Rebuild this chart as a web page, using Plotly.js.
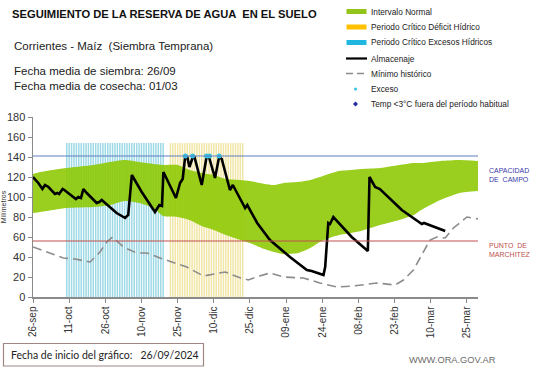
<!DOCTYPE html>
<html><head><meta charset="utf-8">
<script src="https://cdn.plot.ly/plotly-3.0.1.min.js"></script>
<style>html,body{margin:0;padding:0;background:#fff}#chart{width:541px;height:368px}</style>
</head><body><div id="chart"></div>
<script>
// ---- data (x = days since 26-sep-2024) ----
const tickDays = [0,15,30,45,60,75,90,105,120,135,150,165,180];
const tickLabels = ['26-sep','11-oct','26-oct','10-nov','25-nov','10-dic','25-dic','09-ene','24-ene','08-feb','23-feb','10-mar','25-mar'];

const normalDays = [0,3,14,25,32,38,44,50,54,60,65,70,75,80,86,90,96,100,104,110,115,119,124,127,132,136,144,152,158,161,169,177,185];
const normalLow  = [84,85,89,90,92,96,94,89,81,80,77,71,67,62,57,54,48,45,43,44,49,55,60,62,64,66,72,77,82,87,97,104,106];
const normalHigh = [123,125,129,132,135,137,135,133,132,132,127,124,122,118,117,116,113,112,114,115,117,120,124,126,127,128,129,132,134,134,136,137,136];

const capacidadCampo = 141;
const puntoMarchitez = 56;

const excesoPeriod = [14, 54];   // Periodo critico excesos hidricos (first/last day)
const deficitPeriod = [57, 87];  // Periodo critico deficit hidrico
const periodBarHeight = 154;

const almDays = [0,2.2,3.9,5,6.4,9.1,10.1,10.8,12.3,13,17.8,18.8,19.9,20.9,22.3,26.4,27.5,28.5,34.7,38.2,39.5,41,45.1,50.6,52.4,53.5,54.1,55.7,59.3,61,62.1,63.1,64,64.9,66.3,67,70,72,73,75.5,77.2,78.3,81.7,82.9,88,88.9,93,98.3,106.6,113.6,115.6,120.5,121.2,122.5,123.2,124.6,132.2,138.9,139.6,141.9,143.9,153,161.3,162.2,171];
const almVals = [120,114,108,112,110,103,104,103,108,107,98,100,99,108,104,94,95,97,84,79,82,122,105,85,92,91,125,117,99,114,118,140,140,130,140,140,112,140,140,119,140,138,107,112,89,92,74,57,40,27,26,22,30,74,73,80,60,46,120,110,108,87,73,74,66];

const excesoDays = [63.2, 66.2, 72, 73.2, 77.2];
const excesoVals = [141, 141, 141, 141, 141];

const minDays = [0,12.6,17.4,23.7,27.8,30.6,33,37.5,43,47.2,52.7,58,63.8,70.7,75,79.7,85,89.3,94,98.3,103.9,112.2,119,126,132.9,142.6,150.2,153.7,157.8,164.7,167.5,171,174.4,180,184.8];
const minVals = [50,39,38,35,45,55,60,50,44,44,39,35,30,21,23,25,20,17,21,24,20,19,14,10,11,14,12,17,27,57,60,59,69,80,78];

// ---- build bar series from periods ----
function daysIn(p){ const a=[]; for(let d=p[0]; d<=p[1]; d++) a.push(d); return a; }
const excBarX = daysIn(excesoPeriod);
const defBarX = daysIn(deficitPeriod);

const xMax = 184.6;

const traces = [
  {type:'bar', x:excBarX, y:excBarX.map(()=>periodBarHeight), marker:{color:'#9ed9e6'}, hoverinfo:'skip', showlegend:false},
  {type:'bar', x:defBarX, y:defBarX.map(()=>periodBarHeight), marker:{color:'#f2e6a6'}, hoverinfo:'skip', showlegend:false},
  {type:'scatter', mode:'lines', x:normalDays, y:normalLow, line:{width:0, shape:'spline', smoothing:0.6}, showlegend:false, hoverinfo:'skip'},
  {type:'scatter', mode:'lines', x:normalDays, y:normalHigh, fill:'tonexty', fillcolor:'rgba(140,200,0,0.88)', line:{width:0, shape:'spline', smoothing:0.6}, showlegend:false},
  {type:'scatter', mode:'lines', x:minDays, y:minVals, line:{color:'#8c8c8c', width:1.6, dash:'9px,5px'}, showlegend:false},
  {type:'scatter', mode:'lines', x:almDays, y:almVals, line:{color:'#000', width:2.6}, showlegend:false},
  {type:'scatter', mode:'markers', x:excesoDays, y:excesoVals, marker:{color:'#35c3e3', size:5}, showlegend:false}
];

const F = 'Liberation Sans, Arial, sans-serif';
const legendItems = [
  {t:'Intervalo Normal', kind:'rect', c:'#92c41a', y:11.5},
  {t:'Periodo Crítico Déficit Hídrico', kind:'rect', c:'#ffc000', y:27},
  {t:'Periodo Crítico Excesos Hídricos', kind:'rect', c:'#1fb6e0', y:42.5},
  {t:'Almacenaje', kind:'line', c:'#000', y:58.5},
  {t:'Mínimo histórico', kind:'dash', c:'#8c8c8c', y:73.5},
  {t:'Exceso', kind:'dot', c:'#35c3e3', y:89},
  {t:'Temp <3°C fuera del período habitual', kind:'diamond', c:'#1f2f9f', y:104}
];
const W=541, H=368;
const PL=33, PR=478, PT=117, PB=297;
const px = v => (v-PL)/(PR-PL), py = v => (PB - v)/(PB-PT);

const shapes = [
  {type:'line', xref:'paper', x0:0, x1:1, yref:'y', y0:capacidadCampo, y1:capacidadCampo, line:{color:'#5f7fbf', width:1.2}},
  {type:'line', xref:'paper', x0:0, x1:1, yref:'y', y0:puntoMarchitez, y1:puntoMarchitez, line:{color:'#c0504d', width:1.2}},
  {type:'rect', xref:'paper', yref:'paper', x0:px(3.5), x1:px(203.5), y0:py(366), y1:py(343.5), line:{color:'#a08585', width:1.2}, fillcolor:'rgba(0,0,0,0)'}
];
const annotations = [
  {text:'Corrientes - Maíz  (Siembra Temprana)', x:px(12), y:py(46), xanchor:'left', yanchor:'middle', font:{size:11.5, color:'#222'}},
  {text:'Fecha media de siembra: 26/09', x:px(12), y:py(71), xanchor:'left', yanchor:'middle', font:{size:11.5, color:'#222'}},
  {text:'Fecha media de cosecha: 01/03', x:px(12), y:py(85.5), xanchor:'left', yanchor:'middle', font:{size:11.5, color:'#222'}},
  {text:'CAPACIDAD<br>DE  CAMPO', x:px(487), y:py(175), xanchor:'left', yanchor:'middle', align:'left', font:{size:7, color:'#3a3aa8'}},
  {text:'PUNTO  DE<br>MARCHITEZ', x:px(487), y:py(250), xanchor:'left', yanchor:'middle', align:'left', font:{size:7, color:'#c0504d'}},
  {text:'Fecha de inicio del gráfico:   26/09/2024', x:px(9), y:py(355), xanchor:'left', yanchor:'middle', font:{size:10.5, color:'#222', family:'Lato, '+F}},
  {text:'WWW.ORA.GOV.AR', x:px(498), y:py(360), xanchor:'right', yanchor:'middle', font:{size:9.3, color:'#6b6b6b'}}
];
legendItems.forEach(it=>{
  annotations.push({text:it.t, x:px(369), y:py(it.y), xanchor:'left', yanchor:'middle', font:{size:8.3, color:'#222'}});
  if(it.kind==='rect') shapes.push({type:'rect', xref:'paper', yref:'paper', x0:px(346.5), x1:px(366.5), y0:py(it.y+2.5), y1:py(it.y-2.5), line:{width:0}, fillcolor:it.c});
  if(it.kind==='line') shapes.push({type:'line', xref:'paper', yref:'paper', x0:px(346), x1:px(367), y0:py(it.y), y1:py(it.y), line:{width:2.2, color:it.c}});
  if(it.kind==='dash') shapes.push({type:'line', xref:'paper', yref:'paper', x0:px(346), x1:px(367), y0:py(it.y), y1:py(it.y), line:{width:1.6, color:it.c, dash:'7px,4px'}});
  if(it.kind==='dot') shapes.push({type:'circle', xref:'paper', yref:'paper', x0:px(354), x1:px(357), y0:py(it.y+1.5), y1:py(it.y-1.5), line:{width:0}, fillcolor:it.c});
  if(it.kind==='diamond') shapes.push({type:'path', xref:'paper', yref:'paper', path:`M ${px(355.5)} ${py(it.y-2.5)} L ${px(358)} ${py(it.y)} L ${px(355.5)} ${py(it.y+2.5)} L ${px(353)} ${py(it.y)} Z`, line:{width:0}, fillcolor:it.c});
});
annotations.forEach(a=>{a.xref='paper'; a.yref='paper'; a.showarrow=false; a.font.family = a.font.family || F;});
shapes.forEach(s=>{ if(s.xref==='paper' && s.yref==='paper') s.layer='above'; });

const layout = {
  width:W, height:H,
  margin:{l:PL, r:W-PR, t:PT, b:H-PB, pad:0},
  paper_bgcolor:'#fff', plot_bgcolor:'#fff',
  font:{family:F, color:'#333'},
  showlegend:false,
  bargap:0.38,
  title:{text:'SEGUIMIENTO DE LA RESERVA DE AGUA  EN EL SUELO', x:12/W, xref:'container', xanchor:'left', y:1-14/H, yref:'container', yanchor:'middle', font:{size:11.2, color:'#111', family:F, weight:'bold'}},
  xaxis:{range:[0,xMax], tickmode:'array', tickvals:tickDays, ticktext:tickLabels, tickangle:-90, ticks:'outside', ticklen:4, tickcolor:'#8a8a8a', showline:true, linecolor:'#8a8a8a', linewidth:1.5, showgrid:false, zeroline:false, tickfont:{size:10, color:'#333'}, fixedrange:true},
  yaxis:{range:[0,180], dtick:20, ticks:'outside', ticklen:4, tickcolor:'#8a8a8a', showline:true, linecolor:'#8a8a8a', linewidth:1.5, showgrid:false, zeroline:false, tickfont:{size:11, color:'#333'}, title:{text:'Milímetros', font:{size:7, color:'#333'}, standoff:4}, fixedrange:true},
  shapes:shapes, annotations:annotations
};
Plotly.newPlot('chart', traces, layout, {displayModeBar:false, staticPlot:true});
</script></body></html>
